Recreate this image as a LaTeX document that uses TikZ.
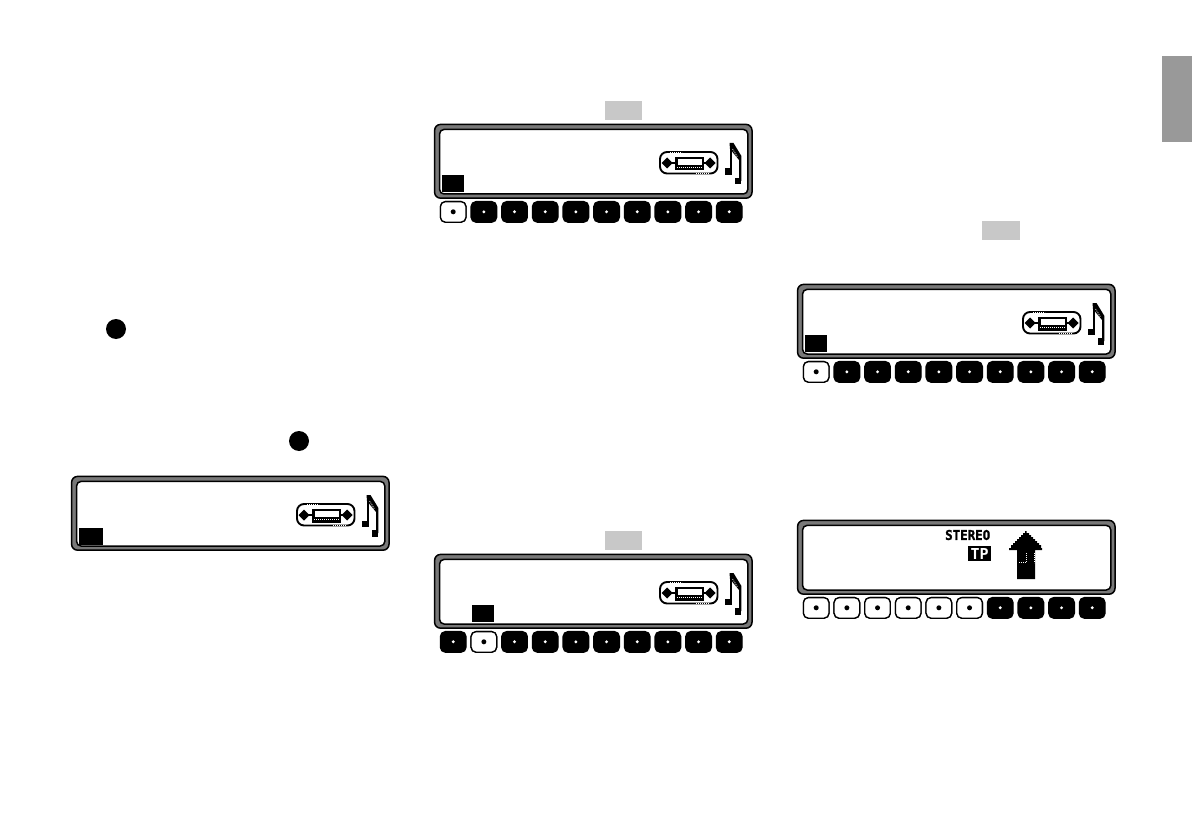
\documentclass[tikz,border=0pt]{standalone}
\usepackage{fontspec}
\usepackage{graphicx}
\setmainfont{DejaVu Sans Mono}
\definecolor{bezel}{HTML}{787878}
\definecolor{hint}{HTML}{C8C8C8}
\definecolor{tabgrey}{HTML}{999999}
\tikzset{
  outerframe/.style={draw=black,line width=1.5pt,fill=bezel,rounded corners=6pt},
  innerframe/.style={draw=black,line width=1.5pt,fill=white,rounded corners=4.5pt},
  keyon/.style={draw=black,line width=1.3pt,fill=white,rounded corners=5pt},
  keyoff/.style={draw=black,line width=1.3pt,fill=black,rounded corners=5pt},
  hintbox/.style={fill=hint,draw=none},
  solidbox/.style={fill=black,draw=none},
  iconline/.style={draw=black,line width=1.9pt},
  dotwhite/.style={draw=white,line width=.8pt,dash pattern=on .9pt off 1.1pt}
}
\newcommand{\displaypanel}[2]{%
  \begin{scope}[shift={(#1,#2)}]
    \draw[outerframe] (0.6,0.4) rectangle (318,74.2);
    \draw[innerframe] (5.6,5.4) rectangle (313.8,70);
  \end{scope}}
\newcommand{\radioicon}[2]{%
  \begin{scope}[shift={(#1,#2)}]
    % cassette/radio symbol
    \draw[iconline,rounded corners=7pt] (226,28) rectangle (283.5,49.5);
    \draw[dotwhite] (236,28) -- (248,28);
    \draw[dotwhite] (262,49.5) -- (275,49.5);
    \fill (241,33) rectangle (270,46.5);
    \fill[white] (243.5,35.2) rectangle (267.5,41);
    \draw[dotwhite] (243,43.6) -- (268,43.6);
    \fill (233,33.5) -- (238.5,39) -- (233,44.5) -- (227.5,39) -- cycle;
    \fill (276,33.5) -- (281.5,39) -- (276,44.5) -- (270.5,39) -- cycle;
    \draw[line width=1.6pt] (236,39) -- (241,39) (270,39) -- (274,39);
    % note symbol
    \draw[line width=2.2pt] (296.6,20) -- (296.6,48);
    \fill (291,44.5) rectangle (297.5,51);
    \fill (295.5,19) -- (299.5,19) -- (307.4,32) -- (307.4,57) -- (305,57) -- (305,36) -- (296,25) -- cycle;
    \draw[dotwhite] (298.6,25) -- (303.5,33);
    \fill (300.5,54) rectangle (307.4,60.5);
  \end{scope}}
\newcommand{\keyrow}[3]{% x, y, light keys
  \begin{scope}[shift={(#1,#2)}]
    \foreach \i in {0,...,9} {
      \pgfmathsetmacro{\kx}{6.4+30.67*\i}
      \draw[keyoff] (\kx,77.6) rectangle +(25.6,20.6);
      \fill[white] (\kx+12.8,87.8) circle (1.6);
    }
    \foreach \i in {#3} {
      \pgfmathsetmacro{\kx}{6.4+30.67*\i}
      \draw[keyon] (\kx,77.6) rectangle +(25.6,20.6);
      \fill[black] (\kx+12.8,87.8) circle (2.5);
    }
  \end{scope}}
\begin{document}
\begin{tikzpicture}[x=1pt,y=-1pt]
\useasboundingbox (0,0) rectangle (1192,840);
% side tab
\fill[tabgrey] (1162,56) rectangle (1192,142);
% reference bullets
\fill (116,329) circle (10);
\fill (299,441) circle (10);
% hint boxes
\fill[hintbox] (605,101) rectangle (642,120);
\fill[hintbox] (605,531) rectangle (642,550);
\fill[hintbox] (982,221) rectangle (1020,240);
% left panel
\displaypanel{71}{476}
\radioicon{71}{476}
\fill[solidbox] (79,528) rectangle (103,545);
% panel top centre
\displaypanel{434}{124}
\radioicon{434}{124}
\fill[solidbox] (442,175) rectangle (464,192);
\keyrow{434}{124}{0}
% panel bottom centre
\displaypanel{434}{554}
\radioicon{434}{554}
\fill[solidbox] (472,605) rectangle (494,622);
\keyrow{434}{554}{1}
% panel top right
\displaypanel{797}{284}
\radioicon{797}{284}
\fill[solidbox] (805,335) rectangle (827,352);
\keyrow{797}{284}{0}
% panel bottom right
\displaypanel{797}{520}
\keyrow{797}{520}{0,1,2,3,4,5}
\node[inner sep=0pt,anchor=west] (stereo) at (945,535) {\resizebox{45pt}{10pt}{\fontsize{10}{10}\selectfont\bfseries\addfontfeature{FakeBold=1.5}STEREO}};
\fill[solidbox] (968,546) rectangle (991,561);
\node[inner sep=0pt,text=white] (tp) at (979.5,553.5) {\resizebox{18pt}{11pt}{\bfseries TP}};
% arrow with stepped head
\fill (1025,531) -- (1026.5,531) -- (1026.5,533)
  -- (1029,533) -- (1029,535) -- (1031,535) -- (1031,537) -- (1033,537) -- (1033,539)
  -- (1035,539) -- (1035,541) -- (1037,541) -- (1037,543) -- (1039,543) -- (1039,545)
  -- (1041,545) -- (1041,548) -- (1042,548) -- (1042,550) -- (1035,550) -- (1035,579)
  -- (1017,579) -- (1017,550) -- (1009,550) -- (1009,548) -- (1011,548) -- (1011,545)
  -- (1013,545) -- (1013,543) -- (1015,543) -- (1015,541) -- (1017,541) -- (1017,539)
  -- (1019,539) -- (1019,537) -- (1021,537) -- (1021,535) -- (1023,535) -- (1023,533)
  -- (1025,533) -- cycle;
\draw[dotwhite] (1026.7,553) -- (1026.7,562) -- (1018,562);
\draw[dotwhite] (1034,553) -- (1034,563);
\end{tikzpicture}
\end{document}
